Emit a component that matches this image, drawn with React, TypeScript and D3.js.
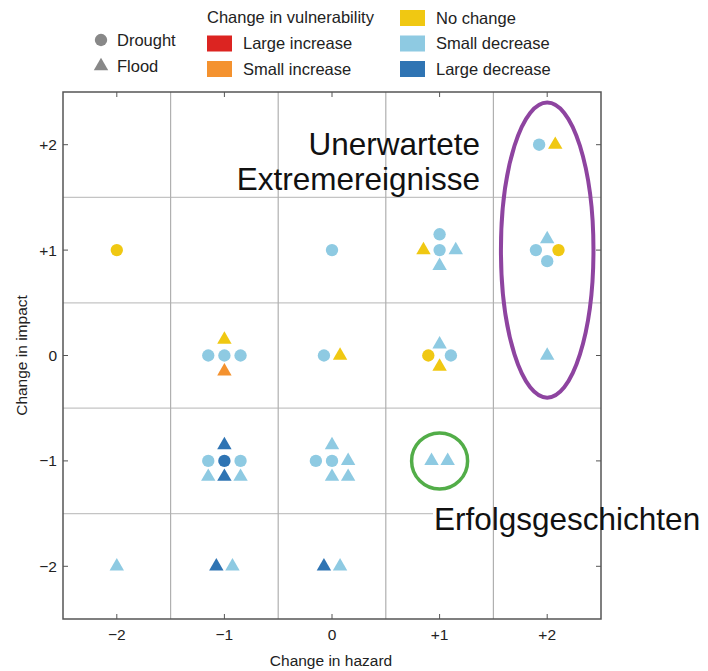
import React from "react";
import * as d3 from "d3";

// change in vulnerability categories
const changeKeys = ["largeInc", "smallInc", "none", "smallDec", "largeDec"];
const changeLabels = ["Large increase", "Small increase", "No change", "Small decrease", "Large decrease"];
const changeColors = ["#dc2421", "#f4922f", "#f0c812", "#8ecae2", "#2f74b3"];

const tickValues = [-2, -1, 0, 1, 2];
const tickLabels = ["\u22122", "\u22121", "0", "+1", "+2"];

// hazard, impact, type (D = drought, F = flood), change, slot col, slot row
const points: [number, number, string, string, number, number][] = [
  [-2, 1, "D", "none", 0, 0],
  [-2, -2, "F", "smallDec", 0, 0],
  [-1, 0, "F", "none", 0, 1],
  [-1, 0, "D", "smallDec", -1, 0],
  [-1, 0, "D", "smallDec", 0, 0],
  [-1, 0, "D", "smallDec", 1, 0],
  [-1, 0, "F", "smallInc", 0, -1],
  [-1, -1, "F", "largeDec", 0, 1],
  [-1, -1, "D", "smallDec", -1, 0],
  [-1, -1, "D", "largeDec", 0, 0],
  [-1, -1, "D", "smallDec", 1, 0],
  [-1, -1, "F", "smallDec", -1, -1],
  [-1, -1, "F", "largeDec", 0, -1],
  [-1, -1, "F", "smallDec", 1, -1],
  [-1, -2, "F", "largeDec", -0.5, 0],
  [-1, -2, "F", "smallDec", 0.5, 0],
  [0, 1, "D", "smallDec", 0, 0],
  [0, 0, "D", "smallDec", -0.5, 0],
  [0, 0, "F", "none", 0.5, 0],
  [0, -1, "F", "smallDec", 0, 1],
  [0, -1, "D", "smallDec", -1, 0],
  [0, -1, "D", "smallDec", 0, 0],
  [0, -1, "F", "smallDec", 1, 0],
  [0, -1, "F", "smallDec", 0, -1],
  [0, -1, "F", "smallDec", 1, -1],
  [0, -2, "F", "largeDec", -0.5, 0],
  [0, -2, "F", "smallDec", 0.5, 0],
  [1, 1, "D", "smallDec", 0, 1],
  [1, 1, "F", "none", -1, 0],
  [1, 1, "D", "smallDec", 0, 0],
  [1, 1, "F", "smallDec", 1, 0],
  [1, 1, "F", "smallDec", 0, -1],
  [1, 0, "F", "smallDec", 0, 0.7],
  [1, 0, "D", "none", -0.7, 0],
  [1, 0, "D", "smallDec", 0.7, 0],
  [1, 0, "F", "none", 0, -0.7],
  [1, -1, "F", "smallDec", -0.5, 0],
  [1, -1, "F", "smallDec", 0.5, 0],
  [2, 2, "D", "smallDec", -0.5, 0],
  [2, 2, "F", "none", 0.5, 0],
  [2, 1, "F", "smallDec", 0, 0.7],
  [2, 1, "D", "smallDec", -0.7, 0],
  [2, 1, "D", "none", 0.7, 0],
  [2, 1, "D", "smallDec", 0, -0.7],
  [2, 0, "F", "smallDec", 0, 0],
];

const font = "'Liberation Sans', Arial, sans-serif";

export default function App() {
  const width = 708;
  const height = 671;
  const left = 63, right = 601, top = 92, bottom = 619;

  const x = d3.scaleLinear().domain([-2.5, 2.5]).range([left, right]);
  const y = d3.scaleLinear().domain([-2.5, 2.5]).range([bottom, top]);
  const slot = 0.15;

  const color = d3.scaleOrdinal<string, string>().domain(changeKeys).range(changeColors);
  const circlePath = d3.symbol().type(d3.symbolCircle).size(120)()!;
  const triPath = d3.symbol().type(d3.symbolTriangle).size(90)()!;

  const bounds = [-1.5, -0.5, 0.5, 1.5];

  return (
    <svg
      width={width}
      height={height}
      style={{ position: "absolute", left: 0, top: 0, display: "block", fontFamily: font }}
    >
      <rect width={width} height={height} fill="#fff" />

      {/* horizontal grid */}
      {bounds.map((b) => (
        <line key={"h" + b} x1={left} x2={right} y1={y(b)} y2={y(b)} stroke="#c4c4c4" strokeWidth={1.2} />
      ))}
      {/* the label hides part of the lowest line */}
      <rect x={433} y={y(-1.5) - 3} width={right - 433} height={6} fill="#fff" />
      {/* vertical grid */}
      {bounds.map((b) => (
        <line key={"v" + b} x1={x(b)} x2={x(b)} y1={top} y2={bottom} stroke="#b0b0b0" strokeWidth={1.2} />
      ))}

      {/* ticks */}
      {tickValues.map((t) => (
        <g key={"t" + t} stroke="#555" strokeWidth={1}>
          <line x1={left} x2={left + 5} y1={y(t)} y2={y(t)} />
          <line x1={right} x2={right - 5} y1={y(t)} y2={y(t)} />
          <line x1={x(t)} x2={x(t)} y1={bottom} y2={bottom - 5} />
          <line x1={x(t)} x2={x(t)} y1={top} y2={top + 5} />
        </g>
      ))}
      <rect x={left} y={top} width={right - left} height={bottom - top} fill="none" stroke="#555" strokeWidth={1.5} />

      {/* tick labels */}
      {tickValues.map((t, i) => (
        <text key={"yl" + t} x={left - 6} y={y(t)} dy="0.35em" textAnchor="end" fontSize={15.5} fill="#222">
          {tickLabels[i]}
        </text>
      ))}
      {tickValues.map((t, i) => (
        <text key={"xl" + t} x={x(t)} y={bottom + 21} textAnchor="middle" fontSize={15.5} fill="#222">
          {tickLabels[i]}
        </text>
      ))}
      <text x={(left + right) / 2 - 1} y={666} textAnchor="middle" fontSize={15.5} fill="#222">
        Change in hazard
      </text>
      <text
        transform={`translate(27,${(top + bottom) / 2}) rotate(-90)`}
        textAnchor="middle"
        fontSize={15.5}
        fill="#222"
      >
        Change in impact
      </text>

      {/* markers */}
      {points.map(([h, im, type, ch, c, r], i) => (
        <path
          key={i}
          d={type === "D" ? circlePath : triPath}
          transform={`translate(${x(h + c * slot)},${y(im + r * slot)})`}
          fill={color(ch)}
        />
      ))}

      {/* annotations */}
      <ellipse
        cx={x(2)}
        cy={y(1)}
        rx={x(0.43) - x(0)}
        ry={y(0) - y(1.4)}
        fill="none"
        stroke="#8e44a0"
        strokeWidth={4}
      />
      <circle cx={x(1)} cy={y(-1)} r={28} fill="none" stroke="#52ad48" strokeWidth={3.5} />
      <text x={480} y={155} textAnchor="end" fontSize={31.5} fill="#111">
        Unerwartete
      </text>
      <text x={480} y={190} textAnchor="end" fontSize={31.5} fill="#111">
        Extremereignisse
      </text>
      <text x={434} y={530} fontSize={31.5} fill="#111">
        Erfolgsgeschichten
      </text>

      {/* legend */}
      <g fontSize={16.5} fill="#222">
        <path d={circlePath} transform="translate(101,40)" fill="#888" />
        <text x={117} y={40} dy="0.35em">Drought</text>
        <path d={triPath} transform="translate(101,66)" fill="#888" />
        <text x={117} y={66} dy="0.35em">Flood</text>
        <text x={207} y={17} dy="0.35em">Change in vulnerability</text>
        {changeKeys.map((k, i) => {
          const col = i < 2 ? 0 : 1;
          const row = i < 2 ? i + 1 : i - 2;
          const sx = col === 0 ? 207 : 400;
          const sy = 18 + row * 25.5;
          return (
            <g key={k}>
              <rect x={sx} y={sy - 8} width={25} height={16} fill={changeColors[i]} />
              <text x={sx + 36} y={sy} dy="0.35em">{changeLabels[i]}</text>
            </g>
          );
        })}
      </g>
    </svg>
  );
}
